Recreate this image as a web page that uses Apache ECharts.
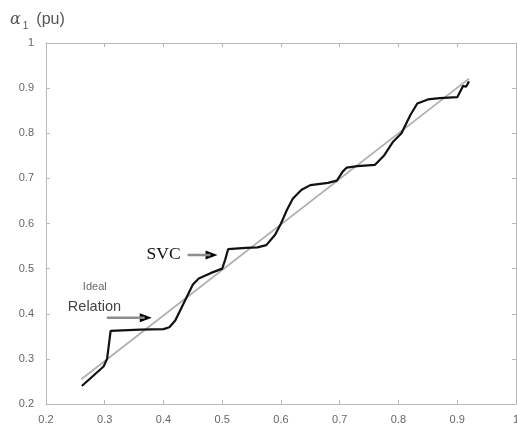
<!DOCTYPE html>
<html>
<head>
<meta charset="utf-8">
<script src="https://cdn.jsdelivr.net/npm/echarts@6/dist/echarts.min.js"></script>
<style>
  html, body { margin: 0; padding: 0; background: #fff; }
  #chart { width: 517px; height: 429px; }
</style>
</head>
<body>
<div id="chart"></div>
<script>
// Axis ticks
const xTicks = [0.2, 0.3, 0.4, 0.5, 0.6, 0.7, 0.8, 0.9, 1];
const yTicks = [0.2, 0.3, 0.4, 0.5, 0.6, 0.7, 0.8, 0.9, 1];

// Ideal relation (straight line)
const idealX = [0.26, 0.92];
const idealY = [0.255, 0.921];

// SVC response (stepped curve)
const svcX = [0.261, 0.28, 0.298, 0.304, 0.31, 0.36, 0.40, 0.41, 0.42, 0.435, 0.45, 0.46,
              0.48, 0.50, 0.505, 0.51, 0.54, 0.56, 0.575, 0.59, 0.60, 0.61, 0.62, 0.635,
              0.65, 0.68, 0.695, 0.705, 0.712, 0.73, 0.76, 0.775, 0.79, 0.805, 0.82, 0.832,
              0.85, 0.87, 0.90, 0.91, 0.915, 0.92];
const svcY = [0.240, 0.262, 0.283, 0.30, 0.362, 0.365, 0.366, 0.37, 0.385, 0.425, 0.465, 0.478,
              0.49, 0.50, 0.52, 0.543, 0.546, 0.547, 0.552, 0.575, 0.60, 0.63, 0.655, 0.675,
              0.685, 0.69, 0.695, 0.715, 0.724, 0.727, 0.73, 0.75, 0.78, 0.80, 0.84, 0.866,
              0.875, 0.878, 0.88, 0.905, 0.903, 0.915];

// Annotation arrows (data coordinates: start x, end x, y)
const relationArrow = [0.3036, 0.38, 0.391];
const svcArrow = [0.441, 0.492, 0.530];

const zip = (a, b) => a.map((v, i) => [v, b[i]]);

const axisGray = '#b8b8b8';
const labelGray = '#666';

const chart = echarts.init(document.getElementById('chart'));

function arrowSeries(arr) {
  return {
    type: 'line',
    data: [[arr[0], arr[2]], [arr[1] - 0.012, arr[2]]],
    symbol: 'none',
    lineStyle: { color: '#8c8c8c', width: 2.5 },
    silent: true,
    z: 5,
    markPoint: {
      silent: true,
      data: [
        {
          coord: [arr[1], arr[2]],
          symbol: 'triangle',
          symbolSize: [9, 12],
          symbolRotate: -90,
          symbolOffset: [-6, 0],
          itemStyle: { color: '#000' },
          label: { show: false }
        }
      ]
    }
  };
}

const tickFmt = ticks => v =>
  ticks.find(t => Math.abs(t - v) < 1e-6) !== undefined ? String(+v.toFixed(1)) : '';

chart.setOption({
  animation: false,
  backgroundColor: '#fff',
  title: {
    text: '{a|α}{s|1}{p|(pu)}',
    left: 5,
    top: 4,
    textStyle: {
      fontWeight: 'normal',
      rich: {
        a: { fontFamily: 'DejaVu Serif', fontStyle: 'italic', fontWeight: 'normal', fontSize: 16, color: '#555' },
        s: { fontFamily: 'Arial', fontWeight: 'normal', fontSize: 10, color: '#555', verticalAlign: 'bottom', padding: [12, 0, 0, 2] },
        p: { fontFamily: 'Arial', fontWeight: 'normal', fontSize: 16, color: '#555', padding: [0, 0, 0, 8] }
      }
    }
  },
  grid: { left: 46, right: 1, top: 43, bottom: 25, outerBoundsMode: 'none', containLabel: false },
  xAxis: [
    {
      type: 'value', min: 0.2, max: 1, interval: 0.1,
      axisLine: { show: true, lineStyle: { color: axisGray, width: 1 } },
      axisTick: { show: true, inside: true, length: 4, lineStyle: { color: axisGray } },
      splitLine: { show: false },
      axisLabel: { color: labelGray, fontSize: 11, fontFamily: 'Arial', margin: 10, formatter: tickFmt(xTicks) }
    },
    {
      type: 'value', min: 0.2, max: 1, interval: 0.1, position: 'top',
      axisLine: { show: true, lineStyle: { color: axisGray, width: 1 } },
      axisTick: { show: true, inside: true, length: 4, lineStyle: { color: axisGray } },
      axisLabel: { show: false },
      splitLine: { show: false }
    }
  ],
  yAxis: [
    {
      type: 'value', min: 0.2, max: 1, interval: 0.1,
      axisLine: { show: true, lineStyle: { color: axisGray, width: 1 } },
      axisTick: { show: true, inside: true, length: 4, lineStyle: { color: axisGray } },
      splitLine: { show: false },
      axisLabel: { color: labelGray, fontSize: 11, fontFamily: 'Arial', margin: 12, formatter: tickFmt(yTicks) }
    },
    {
      type: 'value', min: 0.2, max: 1, interval: 0.1, position: 'right',
      axisLine: { show: true, lineStyle: { color: axisGray, width: 1 } },
      axisTick: { show: true, inside: true, length: 4, lineStyle: { color: axisGray } },
      axisLabel: { show: false },
      splitLine: { show: false }
    }
  ],
  series: [
    {
      name: 'Ideal Relation',
      type: 'line',
      data: zip(idealX, idealY),
      symbol: 'none',
      lineStyle: { color: '#b0b0b0', width: 1.8 },
      z: 2
    },
    {
      name: 'SVC',
      type: 'line',
      data: zip(svcX, svcY),
      symbol: 'none',
      lineStyle: { color: '#111', width: 2.2 },
      z: 3
    },
    arrowSeries(relationArrow),
    arrowSeries(svcArrow)
  ]
});

// Text annotations placed next to the arrows
const relPx = chart.convertToPixel({ gridIndex: 0 }, [relationArrow[0], relationArrow[2]]);
const svcPx = chart.convertToPixel({ gridIndex: 0 }, [svcArrow[0], svcArrow[2]]);
chart.setOption({
  graphic: [
    {
      type: 'text', left: relPx[0] - 24, top: relPx[1] - 36,
      style: { text: 'Ideal', font: '11px Arial', fill: '#666' }
    },
    {
      type: 'text', left: relPx[0] - 39, top: relPx[1] - 18,
      style: { text: 'Relation', font: '14.5px Arial', fill: '#444' }
    },
    {
      type: 'text', left: svcPx[0] - 41, top: svcPx[1] - 10,
      style: { text: 'SVC', font: '17.5px "Liberation Serif"', fill: '#111' }
    }
  ]
});
</script>
</body>
</html>
